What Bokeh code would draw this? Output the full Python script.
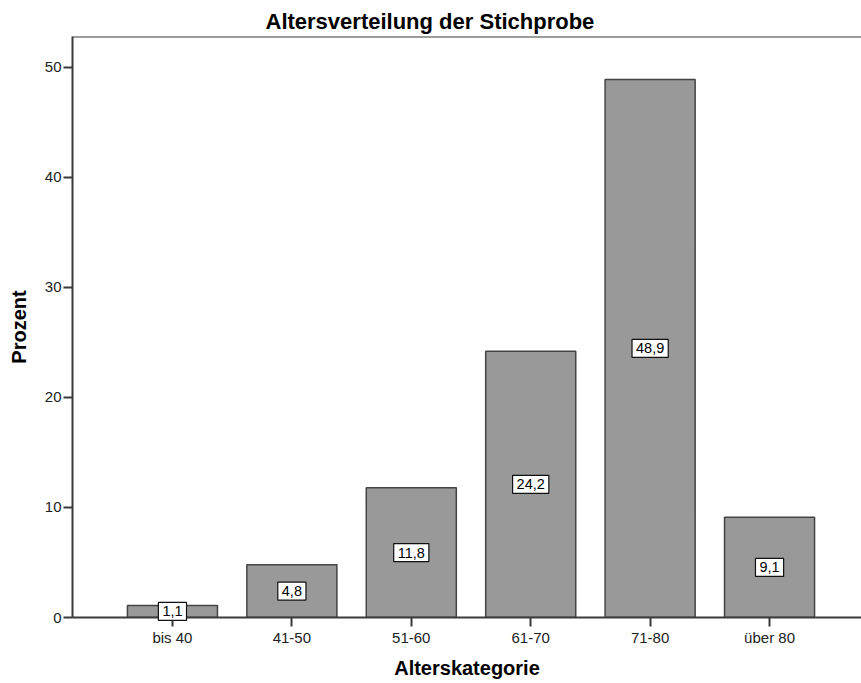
from bokeh.plotting import figure
from bokeh.models import ColumnDataSource, Range1d, FixedTicker, Span
from bokeh.core.properties import value
from bokeh.embed import file_html
from bokeh.resources import INLINE

# --- data ---
categories = ["bis 40", "41-50", "51-60", "61-70", "71-80", "über 80"]
percent = [1.1, 4.8, 11.8, 24.2, 48.9, 9.1]
y_ticks = [0, 10, 20, 30, 40, 50]

xpos = list(range(len(categories)))
labels = [f"{v:.1f}".replace(".", ",") for v in percent]
mid = [v / 2 for v in percent]

src = ColumnDataSource(dict(x=xpos, top=percent, mid=mid, lab=labels))

FONT = "Liberation Sans"
AX = "#3a3a3a"

p = figure(width=861, height=683, output_backend="svg", toolbar_location=None,
           x_range=Range1d(-0.837, 5.77), y_range=Range1d(0, 52.8),
           min_border_left=72, min_border_right=0, min_border_top=36,
           min_border_bottom=66)

p.title.text = "Altersverteilung der Stichprobe"
p.title.align = "left"
p.title.offset = 193
p.title.text_font = FONT
p.title.text_font_size = "22px"
p.title.text_font_style = "bold"
p.title.text_color = "black"
p.title.standoff = 5

p.vbar(x="x", top="top", bottom=0, width=0.754, source=src,
       fill_color="#999999", line_color="#444444", line_width=1.5)

p.text(x="x", y="mid", text="lab", source=src,
       text_align="center", text_baseline="middle",
       text_font=value(FONT), text_font_size="14.5px", text_color="black",
       background_fill_color="white", border_line_color="#111111",
       border_line_width=1.2, padding=(4, 4), level="overlay")

p.add_layout(Span(location=52.8, dimension="width", line_color=AX, line_width=2))

p.grid.visible = False
p.outline_line_color = None
p.background_fill_color = "white"
p.border_fill_color = "white"

p.xaxis.ticker = FixedTicker(ticks=xpos)
p.xaxis.major_label_overrides = {i: c for i, c in zip(xpos, categories)}
p.yaxis.ticker = FixedTicker(ticks=y_ticks)

for ax in (p.xaxis, p.yaxis):
    ax.axis_line_color = AX
    ax.axis_line_width = 2
    ax.major_tick_line_color = AX
    ax.major_tick_line_width = 2
    ax.major_tick_in = 0
    ax.major_tick_out = 9
    ax.minor_tick_line_color = None
    ax.major_label_text_font = FONT
    ax.major_label_text_font_size = "15px"
    ax.major_label_text_color = "#222222"
    ax.axis_label_text_font = FONT
    ax.axis_label_text_font_size = "20px"
    ax.axis_label_text_font_style = "bold"
    ax.axis_label_text_color = "black"
    ax.major_label_standoff = 2

p.xaxis.axis_label = "Alterskategorie"
p.yaxis.axis_label = "Prozent"
p.xaxis.axis_label_standoff = 8
p.yaxis.axis_label_standoff = 12

open("out.html", "w").write(file_html(p, INLINE))
